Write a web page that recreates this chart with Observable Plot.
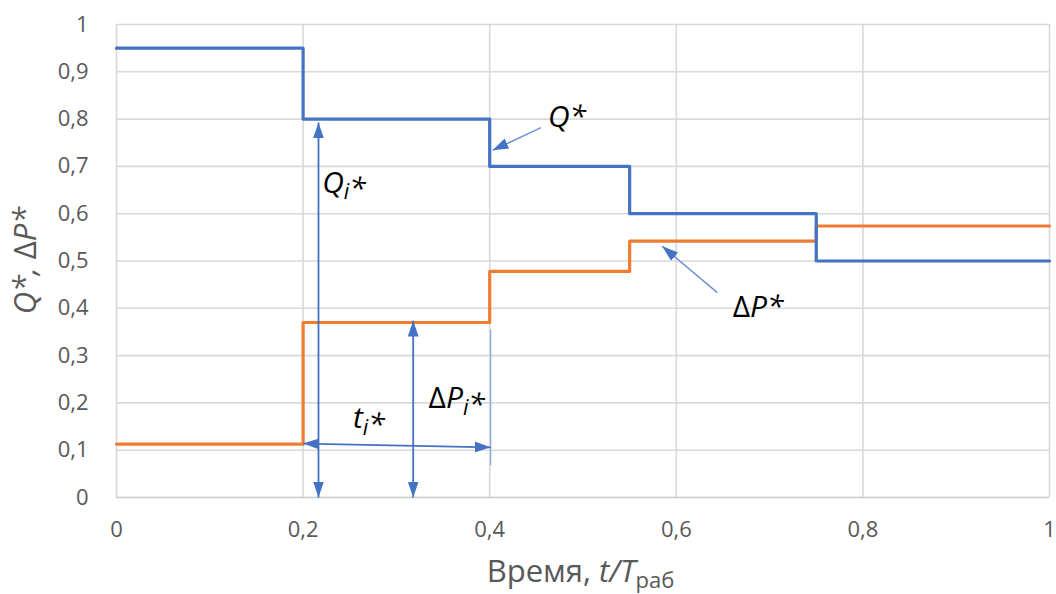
<!DOCTYPE html>
<html><head><meta charset="utf-8">
<script src="https://cdn.jsdelivr.net/npm/d3@7"></script>
<script src="https://cdn.jsdelivr.net/npm/@observablehq/plot@0.6"></script>
<style>
html,body{margin:0;padding:0;background:#fff;}
#chart svg{display:block;}
</style>
</head><body><div id="chart"></div>
<script>
// ---- data ----
const qTimes  = [0, 0.2, 0.4, 0.55, 0.75, 1];
const qValues = [0.95, 0.8, 0.7, 0.6, 0.5, 0.5];
const pTimes  = [0, 0.2, 0.4, 0.55, 0.75, 1];
const pValues = [0.113, 0.37, 0.478, 0.542, 0.574, 0.574];
const xTicks = [0, 0.2, 0.4, 0.6, 0.8, 1];
const yTicks = [0, 0.1, 0.2, 0.3, 0.4, 0.5, 0.6, 0.7, 0.8, 0.9, 1];
const xTitleMain = "Время, ";
const xTitleItalic = "t/T";
const xTitleSub = "раб";
// annotation arrows (data coordinates)
const doubleArrows = [
  {x1: 0.2165, y1: 0.0, x2: 0.2165, y2: 0.793},
  {x1: 0.318, y1: 0.0, x2: 0.318, y2: 0.374},
  {x1: 0.2, y1: 0.114, x2: 0.401, y2: 0.106}
];
const singleArrows = [
  {x1: 0.455, y1: 0.782, x2: 0.403, y2: 0.734},
  {x1: 0.644, y1: 0.433, x2: 0.585, y2: 0.531}
];
const guideLines = [{x1: 0.401, y1: 0.068, x2: 0.401, y2: 0.355}];
const labels = [
  {x: 0.463, y: 0.782, text: "Q*"},
  {x: 0.221, y: 0.643, text: "Q_i*"},
  {x: 0.335, y: 0.188, text: "ΔP_i*"},
  {x: 0.254, y: 0.146, text: "t_i*"},
  {x: 0.661, y: 0.38, text: "ΔP*"}
];

// ---- build ----
const qData = qTimes.map((t, i) => ({t, v: qValues[i]}));
const pData = pTimes.map((t, i) => ({t, v: pValues[i]}));
const fmt = d => (d === 0 || d === 1) ? String(d) : d3.format(".1f")(d).replace(".", ",");
const BLUE = "#4472C4", ORANGE = "#ED7D31";

const chart = Plot.plot({
  width: 1056,
  height: 594,
  marginLeft: 116,
  marginRight: 7,
  marginTop: 24,
  marginBottom: 97,
  style: {fontFamily: "'Open Sans', sans-serif", background: "#fff", overflow: "visible"},
  x: {domain: [0, 1]},
  y: {domain: [0, 1]},
  marks: [
    Plot.gridY(yTicks, {stroke: "#d9d9d9", strokeOpacity: 1, strokeWidth: 1.6}),
    Plot.gridX(xTicks, {stroke: "#d9d9d9", strokeOpacity: 1, strokeWidth: 1.6}),
    Plot.ruleY([0], {stroke: "#d0d0d0", strokeWidth: 1.6}),
    Plot.axisY(yTicks, {tickFormat: fmt, tickSize: 0, tickPadding: 28, fontSize: 22, fill: "#595959", label: null}),
    Plot.axisX(xTicks, {tickFormat: fmt, tickSize: 0, tickPadding: 24, fontSize: 22, fill: "#595959", label: null}),
    Plot.line(pData, {x: "t", y: "v", curve: "step-after", stroke: ORANGE, strokeWidth: 3.2}),
    Plot.line(qData, {x: "t", y: "v", curve: "step-after", stroke: BLUE, strokeWidth: 3.2}),
    Plot.link(guideLines, {x1: "x1", y1: "y1", x2: "x2", y2: "y2", stroke: "#8faadc", strokeWidth: 1.3}),
    Plot.link(doubleArrows, {x1: "x1", y1: "y1", x2: "x2", y2: "y2", stroke: BLUE, strokeWidth: 1.8}),
    Plot.link(singleArrows, {x1: "x1", y1: "y1", x2: "x2", y2: "y2", stroke: "#6f93d6", strokeWidth: 1.5})
  ]
});

const svg = d3.select(chart);
const sx = chart.scale("x"), sy = chart.scale("y");

// filled triangle arrowhead marker
const defs = svg.insert("defs", ":first-child");
defs.append("marker")
  .attr("id", "tri")
  .attr("viewBox", "0 0 10 10")
  .attr("refX", 10).attr("refY", 5)
  .attr("markerWidth", 16).attr("markerHeight", 16)
  .attr("markerUnits", "userSpaceOnUse")
  .attr("orient", "auto-start-reverse")
  .append("path").attr("d", "M0,1.6L10,5L0,8.4Z").attr("fill", BLUE);
const linkGroups = svg.selectAll("g[aria-label='link']").nodes();
// order: guide line, double arrows, single arrows
d3.select(linkGroups[1]).selectAll("path").attr("marker-start", "url(#tri)").attr("marker-end", "url(#tri)");
d3.select(linkGroups[2]).selectAll("path").attr("marker-end", "url(#tri)");

// in-plot labels with subscripts
function richText(g, str, size) {
  let i = 0;
  while (i < str.length) {
    const ch = str[i];
    if (ch === "_") {
      g.append("tspan").attr("font-size", size * 0.72).attr("dy", size * 0.22).attr("font-style", "italic").text(str[i + 1]);
      g.append("tspan").attr("dy", -size * 0.22).text("");
      i += 2;
      continue;
    }
    g.append("tspan").attr("font-style", ch === "Δ" ? "normal" : "italic").text(ch);
    i++;
  }
}
const LS = 30;
const lg = svg.append("g").attr("font-family", "'Open Sans', sans-serif").attr("fill", "#000").attr("text-anchor", "start");
for (const l of labels) {
  const t = lg.append("text").attr("x", sx.apply(l.x)).attr("y", sy.apply(l.y)).attr("font-size", LS);
  richText(t, l.text, LS);
}

// axis titles
const xt = svg.append("text")
  .attr("x", sx.apply(0.5) - 2).attr("y", 582)
  .attr("text-anchor", "middle").attr("fill", "#595959")
  .attr("font-family", "'Open Sans', sans-serif").attr("font-size", 31);
xt.append("tspan").text(xTitleMain);
xt.append("tspan").attr("font-style", "italic").text(xTitleItalic);
xt.append("tspan").attr("font-size", 22).attr("dy", 6).text(xTitleSub);

const yt = svg.append("text")
  .attr("transform", `translate(36,${sy.apply(0.5)}) rotate(-90)`)
  .attr("text-anchor", "middle").attr("fill", "#595959")
  .attr("font-family", "'Open Sans', sans-serif").attr("font-size", 31)
  .attr("font-style", "italic");
yt.append("tspan").text("Q*, ");
yt.append("tspan").attr("font-style", "normal").text("Δ");
yt.append("tspan").text("P*");

document.getElementById("chart").appendChild(chart);
</script>
</body></html>
